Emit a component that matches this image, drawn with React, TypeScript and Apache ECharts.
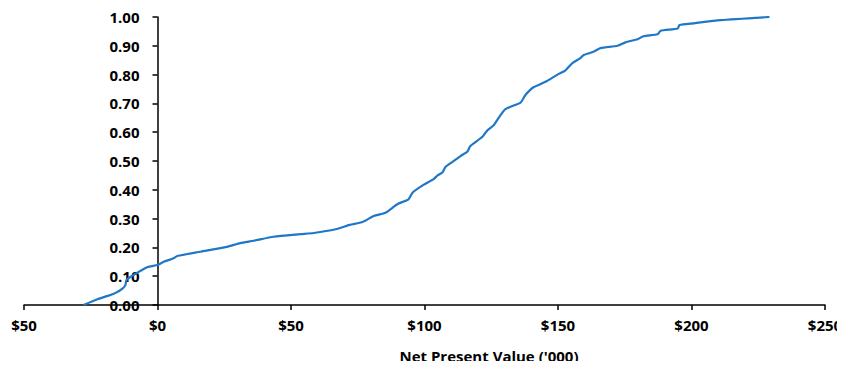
import React, { useEffect, useRef } from "react";
import * as echarts from "echarts";

const npvValues = [
  -27.7, -22.5, -17.6, -15.7, -13, -12, -11.6, -9, -3.7, 0, 2.3, 6, 7.4, 16, 26, 31, 36, 43.5, 53.5,
  58.5, 66.7, 72, 76.8, 81, 85.4, 89.8, 94, 95.5, 99.6, 103.4, 104.9, 106.7, 107.9, 110.5, 113.5,
  116, 117.2, 121.7, 123.6, 126, 127.7, 130.3, 136, 137.8, 140.8, 145.3, 149.8, 152.8, 155.4, 158.4,
  159.6, 163.3, 165.9, 172.3, 175.3, 179.8, 182, 187.3, 188.4, 194.8, 195.5, 200.7, 210.9, 229.2,
];
const cumProb = [
  0, 0.02, 0.035, 0.042, 0.058, 0.07, 0.087, 0.104, 0.132, 0.139, 0.15, 0.162, 0.17, 0.185, 0.202,
  0.215, 0.223, 0.237, 0.246, 0.25, 0.263, 0.278, 0.288, 0.309, 0.32, 0.35, 0.367, 0.39, 0.417,
  0.437, 0.45, 0.46, 0.48, 0.497, 0.517, 0.532, 0.552, 0.584, 0.607, 0.625, 0.649, 0.68, 0.703,
  0.729, 0.756, 0.775, 0.8, 0.815, 0.84, 0.857, 0.868, 0.879, 0.892, 0.9, 0.912, 0.923, 0.933,
  0.94, 0.952, 0.96, 0.972, 0.978, 0.989, 1.0,
];
const xTitle = "Net Present Value ('000)";
const xMin = -50;
const xMax = 250;

const FONT = "'Open Sans', sans-serif";
const GRID_LEFT = 24;
const GRID_RIGHT = 20;
const W = 845;

export default function App() {
  const ref = useRef<HTMLDivElement>(null);
  useEffect(() => {
    if (!ref.current) return;
    const chart = echarts.init(ref.current, undefined, { renderer: "svg" });
    const gridW = W - GRID_LEFT - GRID_RIGHT;
    // place y axis where x = 0
    const yAxisOffset = -((0 - xMin) / (xMax - xMin)) * gridW;
    chart.setOption({
      animation: false,
      backgroundColor: "#ffffff",
      grid: {
        left: GRID_LEFT,
        right: GRID_RIGHT,
        top: 17,
        bottom: 64,
        containLabel: false,
        outerBoundsMode: "none",
      },
      xAxis: {
        type: "value",
        min: xMin,
        max: xMax,
        interval: 50,
        axisLine: { show: true, onZero: false, lineStyle: { color: "#000", width: 1.5 } },
        axisTick: { show: true, length: 5, lineStyle: { color: "#000", width: 1.5 } },
        splitLine: { show: false },
        axisLabel: {
          color: "#000",
          fontFamily: FONT,
          fontWeight: "bold",
          fontSize: 15,
          margin: 12,
          formatter: (v: number) => "$" + Math.abs(v),
        },
      },
      yAxis: {
        type: "value",
        min: 0,
        max: 1,
        interval: 0.1,
        offset: yAxisOffset,
        axisLine: { show: true, onZero: false, lineStyle: { color: "#000", width: 1.5 } },
        axisTick: { show: true, length: 5, lineStyle: { color: "#000", width: 1.5 } },
        splitLine: { show: false },
        axisLabel: {
          color: "#000",
          fontFamily: FONT,
          fontWeight: "bold",
          fontSize: 15,
          margin: 18,
          formatter: (v: number) => v.toFixed(2),
        },
      },
      graphic: [
        {
          type: "text",
          x: 489,
          y: 356,
          style: {
            text: xTitle,
            fill: "#000",
            font: `bold 15px ${FONT}`,
            textAlign: "center",
            textVerticalAlign: "middle",
          },
        },
      ],
      series: [
        {
          type: "line",
          data: npvValues.map((x, i) => [x, cumProb[i]]),
          showSymbol: false,
          smooth: 0.2,
          lineStyle: { color: "#1f77c8", width: 2.2 },
        },
      ],
    });
    return () => chart.dispose();
  }, []);
  return <div ref={ref} style={{ width: 845, height: 369, margin: -8 }} />;
}
